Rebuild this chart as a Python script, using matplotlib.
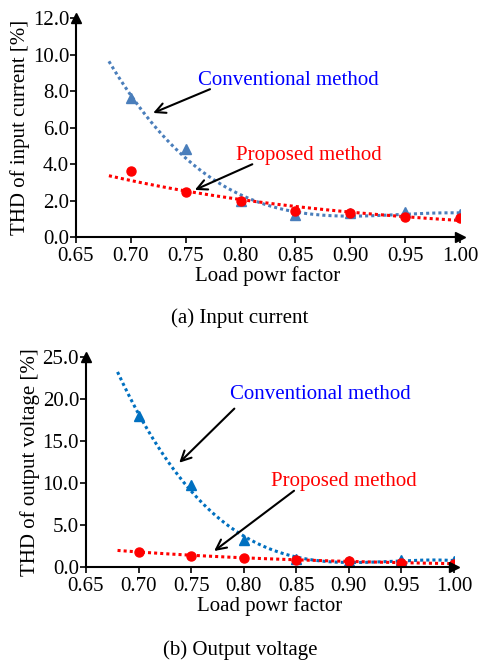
import numpy as np
import matplotlib
matplotlib.use("Agg")
import matplotlib.pyplot as plt

plt.rcParams['font.family'] = ['Liberation Serif', 'DejaVu Serif']
plt.rcParams['mathtext.fontset'] = 'stix'

# load power factor
pf = [0.70, 0.75, 0.80, 0.85, 0.90, 0.95, 1.00]

# (a) THD of input current [%]
conv_i = [7.6, 4.8, 2.0, 1.2, 1.3, 1.35, 1.25]
prop_i = [3.6, 2.45, 2.0, 1.4, 1.3, 1.1, 1.05]

# (b) THD of output voltage [%]
conv_v = [18.0, 9.8, 3.2, 1.0, 0.8, 0.9, 0.7]
prop_v = [1.8, 1.4, 1.1, 0.9, 0.8, 0.55, 0.4]

BLUE_MK = '#4a7ebb'
BLUE_TXT = '#0000ff'
RED = '#ff0000'
FS = 15


def poly_trend(x, y, deg, xs):
    c = np.polyfit(x, y, deg)
    return np.polyval(c, xs)


def exp_trend(x, y, xs):
    c = np.polyfit(x, np.log(y), 1)
    return np.exp(np.polyval(c, xs))


def setup_axes(ax, ymax, ystep):
    ax.set_xlim(0.65, 1.00)
    ax.set_ylim(0, ymax)
    ax.set_xticks(np.arange(0.65, 1.001, 0.05))
    ax.set_xticklabels(['%.2f' % v for v in np.arange(0.65, 1.001, 0.05)])
    ax.set_yticks(np.arange(0, ymax + 0.01, ystep))
    ax.set_yticklabels(['%.1f' % v for v in np.arange(0, ymax + 0.01, ystep)])
    ax.spines['top'].set_visible(False)
    ax.spines['right'].set_visible(False)
    ax.spines['left'].set_linewidth(1.5)
    ax.spines['bottom'].set_linewidth(1.5)
    ax.tick_params(axis='both', labelsize=FS, length=4, width=1.2,
                   direction='out', pad=1)
    ax.tick_params(axis='x', pad=3)
    # arrow heads on the axes
    ax.plot(1, 0, '>k', ms=7, transform=ax.transAxes, clip_on=False)
    ax.plot(0, 1, '^k', ms=7, transform=ax.transAxes, clip_on=False)
    ax.set_xlabel('Load powr factor', fontsize=FS, labelpad=0)


fig = plt.figure(figsize=(4.85, 6.66), dpi=100)
xs = np.linspace(0.68, 1.0, 200)

# ---- (a) input current ----
ax1 = fig.add_axes([0.1567, 0.6441, 0.7918, 0.3288])
ax1.plot(xs, poly_trend(pf, conv_i, 3, xs), color=BLUE_MK, ls=(0, (1, 1)), lw=2.2)
ax1.plot(xs, exp_trend(pf, prop_i, xs), color=RED, ls=(0, (1, 1)), lw=2.2)
ax1.plot(pf, conv_i, '^', color=BLUE_MK, ms=7, ls='none')
ax1.plot(pf, prop_i, 'o', color=RED, ms=6.5, ls='none')
setup_axes(ax1, 12.0, 2.0)
ax1.set_ylabel('THD of input current [%]', fontsize=FS, labelpad=2)
ax1.annotate('', xy=(0.718, 6.74), xytext=(0.7745, 8.16),
             arrowprops=dict(arrowstyle='->', color='black', lw=1.5,
                             mutation_scale=18))
ax1.text(0.761, 8.6, 'Conventional method', color=BLUE_TXT, fontsize=FS,
         ha='left', va='center')
ax1.annotate('', xy=(0.756, 2.52), xytext=(0.813, 4.05),
             arrowprops=dict(arrowstyle='->', color='black', lw=1.5,
                             mutation_scale=18))
ax1.text(0.7955, 4.49, 'Proposed method', color=RED, fontsize=FS,
         ha='left', va='center')
fig.text(0.495, 1 - 318 / 666, '(a) Input current', fontsize=FS,
         ha='center', va='center')

# ---- (b) output voltage ----
ax2 = fig.add_axes([0.1773, 0.1482, 0.7587, 0.3157])
ax2.plot(xs, poly_trend(pf, conv_v, 3, xs), color='#0070c0', ls=(0, (1, 1)), lw=2.2)
ax2.plot(xs, exp_trend(pf, prop_v, xs), color=RED, ls=(0, (1, 1)), lw=2.2)
ax2.plot(pf, conv_v, '^', color='#0070c0', ms=7, ls='none')
ax2.plot(pf, prop_v, 'o', color=RED, ms=6.5, ls='none')
setup_axes(ax2, 25.0, 5.0)
ax2.set_ylabel('THD of output voltage [%]', fontsize=FS, labelpad=2)
ax2.annotate('', xy=(0.7368, 12.2), xytext=(0.793, 19.1),
             arrowprops=dict(arrowstyle='->', color='black', lw=1.5,
                             mutation_scale=18))
ax2.text(0.7869, 20.5, 'Conventional method', color=BLUE_TXT, fontsize=FS,
         ha='left', va='center')
ax2.annotate('', xy=(0.7698, 1.74), xytext=(0.850, 9.3),
             arrowprops=dict(arrowstyle='->', color='black', lw=1.5,
                             mutation_scale=18))
ax2.text(0.8255, 10.2, 'Proposed method', color=RED, fontsize=FS,
         ha='left', va='center')
fig.text(0.495, 1 - 650 / 666, '(b) Output voltage', fontsize=FS,
         ha='center', va='center')

fig.savefig('out.png', dpi=100)
